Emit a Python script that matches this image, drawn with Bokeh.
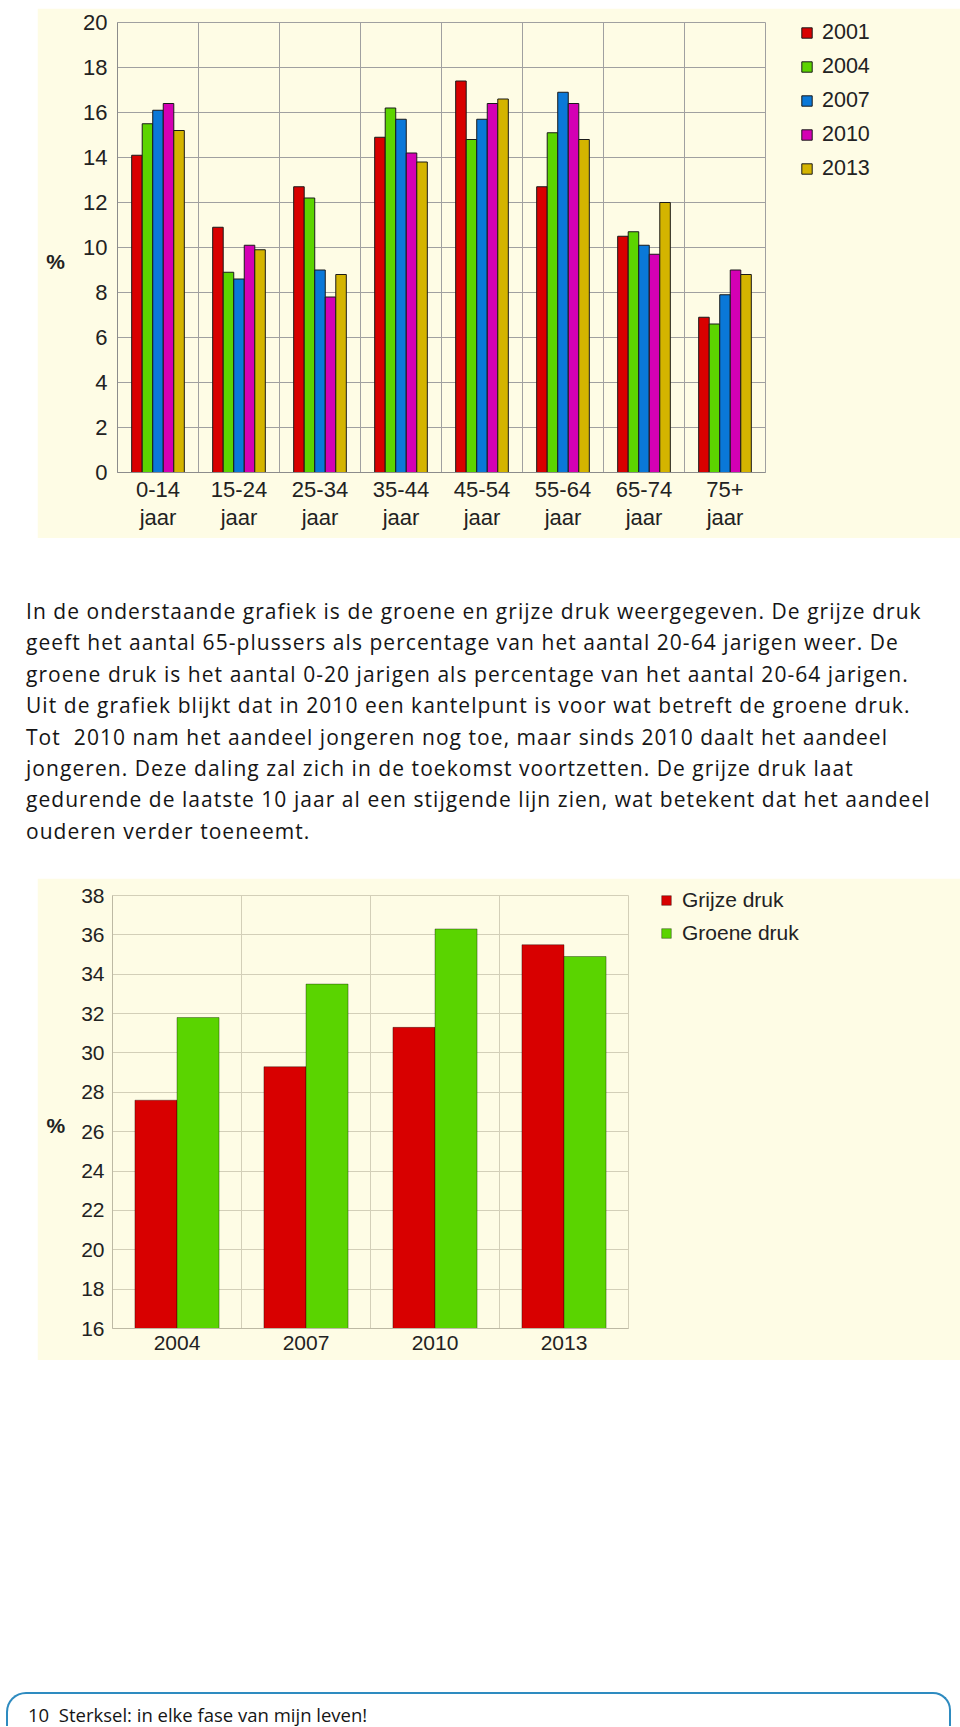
from bokeh.plotting import figure
from bokeh.models import Range1d, FixedTicker, Legend, LegendItem, Div, Spacer
from bokeh.layouts import column, row
from bokeh.embed import file_html
from bokeh.resources import INLINE

# ---------------- data ----------------
age_groups = ["0-14\njaar", "15-24\njaar", "25-34\njaar", "35-44\njaar",
              "45-54\njaar", "55-64\njaar", "65-74\njaar", "75+\njaar"]
years = ["2001", "2004", "2007", "2010", "2013"]
v2001 = [14.1, 10.9, 12.7, 14.9, 17.4, 12.7, 10.5, 6.9]
v2004 = [15.5, 8.9, 12.2, 16.2, 14.8, 15.1, 10.7, 6.6]
v2007 = [16.1, 8.6, 9.0, 15.7, 15.7, 16.9, 10.1, 7.9]
v2010 = [16.4, 10.1, 7.8, 14.2, 16.4, 16.4, 9.7, 9.0]
v2013 = [15.2, 9.9, 8.8, 13.8, 16.6, 14.8, 12.0, 8.8]
top_ticks = [0, 2, 4, 6, 8, 10, 12, 14, 16, 18, 20]

druk_years = ["2004", "2007", "2010", "2013"]
grijze_druk = [27.6, 29.3, 31.3, 35.5]
groene_druk = [31.8, 33.5, 36.3, 34.9]
bottom_ticks = [16, 18, 20, 22, 24, 26, 28, 30, 32, 34, 36, 38]

para_lines = [
    "In de onderstaande grafiek is de groene en grijze druk weergegeven. De grijze druk",
    "geeft het aantal 65-plussers als percentage van het aantal 20-64 jarigen weer. De",
    "groene druk is het aantal 0-20 jarigen als percentage van het aantal 20-64 jarigen.",
    "Uit de grafiek blijkt dat in 2010 een kantelpunt is voor wat betreft de groene druk.",
    "Tot&nbsp; 2010 nam het aandeel jongeren nog toe, maar sinds 2010 daalt het aandeel",
    "jongeren. Deze daling zal zich in de toekomst voortzetten. De grijze druk laat",
    "gedurende de laatste 10 jaar al een stijgende lijn zien, wat betekent dat het aandeel",
    "ouderen verder toeneemt.",
]
footer_text = "10&nbsp;&nbsp;Sterksel: in elke fase van mijn leven!"

# ---------------- style ----------------
CREAM = "#FEFCE5"
FONT = "Liberation Sans"
top_colors = ["#D80000", "#5CD400", "#0A78D8", "#D400B4", "#D4B400"]
bottom_colors = ["#D80000", "#5AD400"]


def style_common(p, grid_color, axis_color, size):
    p.background_fill_color = CREAM
    p.border_fill_color = CREAM
    p.outline_line_color = grid_color
    p.xgrid.grid_line_color = grid_color
    p.ygrid.grid_line_color = grid_color
    for ax in (p.xaxis[0], p.yaxis[0]):
        ax.axis_line_color = axis_color
        ax.major_tick_line_color = None
        ax.minor_tick_line_color = None
        ax.major_label_text_font = FONT
        ax.major_label_text_font_size = size
        ax.major_label_text_color = "#222222"
    # empty first line drops the "%" half a line below the frame centre
    p.yaxis.axis_label = "\n%"
    p.yaxis.axis_label_orientation = "horizontal"
    p.yaxis.axis_label_text_font = FONT
    p.yaxis.axis_label_text_font_style = "bold"
    p.yaxis.axis_label_text_font_size = "21px"
    p.yaxis.axis_label_text_color = "#222222"


# ---------------- top chart ----------------
n = len(age_groups)
p1 = figure(frame_width=648, frame_height=450,
            x_range=Range1d(-0.5, n - 0.5), y_range=Range1d(0, 20),
            output_backend="svg", toolbar_location=None,
            min_border_left=80, min_border_right=115,
            min_border_top=14, min_border_bottom=66)
style_common(p1, "#A0A0A0", "#8C8C8C", "22px")
p1.yaxis.ticker = FixedTicker(ticks=top_ticks)
p1.ygrid.ticker = FixedTicker(ticks=top_ticks)
p1.xaxis.ticker = FixedTicker(ticks=list(range(n)))
p1.xaxis.major_label_overrides = {i: lab for i, lab in enumerate(age_groups)}
p1.xaxis.major_label_text_line_height = 1.12
p1.xgrid.ticker = FixedTicker(ticks=[i - 0.5 for i in range(n + 1)])
p1.yaxis.major_label_standoff = 4
p1.xaxis.major_label_standoff = -2
p1.yaxis.axis_label_standoff = 15

series = [v2001, v2004, v2007, v2010, v2013]
bw = 0.13
items = []
for j, (yr, vals, col) in enumerate(zip(years, series, top_colors)):
    off = (j - 2) * bw
    r = p1.vbar(x=[i + off for i in range(n)], top=vals, bottom=0, width=bw,
                fill_color=col, line_color="#1a1a1a", line_width=1)
    items.append(LegendItem(label=yr, renderers=[r]))
leg1 = Legend(items=items, location=(35, 291), orientation="vertical",
              glyph_width=13, glyph_height=13, label_height=23, spacing=9,
              label_standoff=9, padding=0, margin=0,
              border_line_color=None, background_fill_alpha=0,
              label_text_font=FONT, label_text_font_size="21.5px",
              label_text_color="#222222")
p1.add_layout(leg1, "right")

# ---------------- bottom chart ----------------
m = len(druk_years)
p2 = figure(frame_width=516, frame_height=433,
            x_range=Range1d(-0.5, m - 0.5), y_range=Range1d(16, 38),
            output_backend="svg", toolbar_location=None,
            min_border_left=75, min_border_right=176,
            min_border_top=17, min_border_bottom=32)
style_common(p2, "#D3CFB8", "#BDB9A4", "21px")
p2.yaxis.ticker = FixedTicker(ticks=bottom_ticks)
p2.ygrid.ticker = FixedTicker(ticks=bottom_ticks)
p2.xaxis.ticker = FixedTicker(ticks=list(range(m)))
p2.xaxis.major_label_overrides = {i: lab for i, lab in enumerate(druk_years)}
p2.xgrid.ticker = FixedTicker(ticks=[i - 0.5 for i in range(m + 1)])
p2.yaxis.major_label_standoff = 2
p2.xaxis.major_label_standoff = 1
p2.yaxis.axis_label_standoff = 13

bw2 = 0.326
items2 = []
for j, (lab, vals, col) in enumerate(zip(["Grijze druk", "Groene druk"],
                                         [grijze_druk, groene_druk], bottom_colors)):
    off = (j - 0.5) * bw2
    r = p2.vbar(x=[i + off for i in range(m)], top=vals, bottom=16, width=bw2,
                fill_color=col, line_color="#000000", line_alpha=0.35, line_width=1)
    items2.append(LegendItem(label=lab, renderers=[r]))
leg2 = Legend(items=items2, location=(32, 383), orientation="vertical",
              glyph_width=12, glyph_height=12, label_height=23, spacing=9,
              label_standoff=10, padding=0, margin=0,
              border_line_color=None, background_fill_alpha=0,
              label_text_font=FONT, label_text_font_size="21px",
              label_text_color="#222222")
p2.add_layout(leg2, "right")

# ---------------- text blocks ----------------
para_html = ('<div style="font-family:\'Open Sans\';font-size:21px;letter-spacing:1.05px;'
             'line-height:31.4px;color:#151515;white-space:nowrap;padding-left:18px;margin:0;">'
             + "<br>".join(para_lines) + "</div>")
para = Div(text=para_html, width=944, height=252, margin=0)

footer_html = ('<div style="box-sizing:border-box;width:945px;height:34px;overflow:hidden;'
               'border:2px solid #2E8BC0;border-bottom:none;border-radius:20px 18px 0 0;'
               'padding-left:20px;font-family:\'Open Sans\';font-size:18.5px;line-height:42px;'
               'color:#151515;white-space:nowrap;">' + footer_text + "</div>")
footer = Div(text=footer_html, width=945, height=34, margin=0)

layout = column(
    Spacer(width=10, height=8, margin=0),
    row(Spacer(width=37, height=10, margin=0), p1, margin=0),
    Spacer(width=10, height=58, margin=0),
    row(Spacer(width=8, height=10, margin=0), para, margin=0),
    Spacer(width=10, height=30, margin=0),
    row(Spacer(width=37, height=10, margin=0), p2, margin=0),
    Spacer(width=10, height=332, margin=0),
    row(Spacer(width=6, height=10, margin=0), footer, margin=0),
    margin=0, spacing=0,
)

open("out.html", "w").write(file_html(layout, INLINE))
